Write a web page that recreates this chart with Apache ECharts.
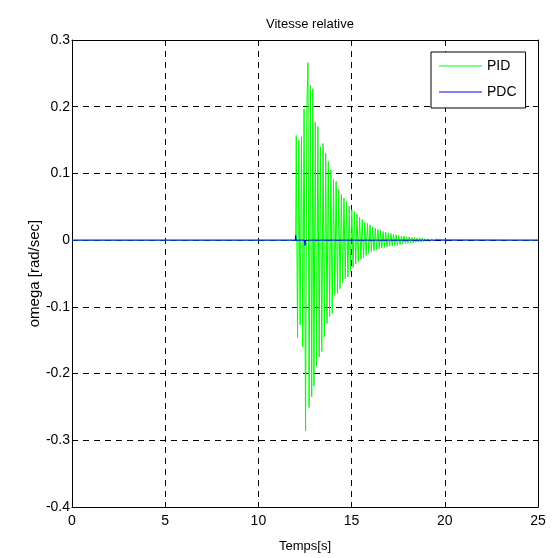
<!DOCTYPE html>
<html>
<head>
<meta charset="utf-8">
<script src="https://cdn.jsdelivr.net/npm/echarts@6/dist/echarts.min.js"></script>
<style>html,body{margin:0;padding:0;background:#fff;}#c{width:552px;height:558px;}</style>
</head>
<body>
<div id="c"></div>
<script>
// X ticks (time, s) and Y ticks (rad/sec)
const xTicks = [0, 5, 10, 15, 20, 25];
const yTicks = [-0.4, -0.3, -0.2, -0.1, 0, 0.1, 0.2, 0.3];

// PID response: sample times and values
const pidTimes = [0, 12.0,
 12.03, 12.10, 12.17, 12.24, 12.31, 12.38, 12.45, 12.53, 12.60, 12.66,
 12.72, 12.79, 12.86, 12.92, 12.98, 13.05, 13.12, 13.19, 13.26, 13.33,
 13.40, 13.47, 13.54, 13.61, 13.68, 13.75, 13.82, 13.89, 13.96, 14.03,
 14.10, 14.17, 14.24, 14.31, 14.38, 14.45, 14.52, 14.59, 14.66, 14.73,
 14.80, 14.87, 14.94, 15.01, 15.08, 15.15, 15.22, 15.29, 15.36, 15.43,
 15.50, 15.57, 15.64, 15.71, 15.78, 15.85, 15.92, 15.99, 16.06, 16.13,
 16.20, 16.27, 16.34, 16.41, 16.48, 16.55, 16.62, 16.69, 16.76, 16.83,
 16.90, 16.97, 17.04, 17.11, 17.18, 17.25, 17.32, 17.39, 17.46, 17.53,
 17.60, 17.67, 17.74, 17.81, 17.88, 17.95, 18.02, 18.09, 18.16, 18.23,
 18.30, 18.37, 18.44, 18.51, 18.58, 18.65, 18.72, 18.79, 18.86, 18.93,
 19.00, 19.10, 19.20, 19.30, 19.40, 19.50, 19.60, 19.70, 19.80, 19.90,
 20.0, 25];
const pidValues = [0, 0,
 0.157, -0.146, 0.150, -0.127, 0.155, -0.160, 0.197, -0.286, 0.200, 0.266,
 -0.251, 0.232, -0.235, 0.227, -0.219, 0.177, -0.189, 0.170, -0.175, 0.140,
 -0.167, 0.145, -0.145, 0.130, -0.125, 0.118, -0.115, 0.105, -0.110, 0.091,
 -0.083, 0.088, -0.080, 0.076, -0.073, 0.068, -0.064, 0.063, -0.058, 0.058,
 -0.055, 0.051, -0.046, 0.046, -0.041, 0.043, -0.036, 0.039, -0.033, 0.034,
 -0.029, 0.031, -0.026, 0.027, -0.023, 0.025, -0.020, 0.023, -0.017, 0.020,
 -0.016, 0.018, -0.014, 0.016, -0.013, 0.015, -0.012, 0.013, -0.011, 0.012,
 -0.010, 0.011, -0.009, 0.010, -0.009, 0.009, -0.008, 0.008, -0.008, 0.007,
 -0.007, 0.006, -0.006, 0.006, -0.005, 0.005, -0.005, 0.005, -0.004, 0.004,
 -0.004, 0.004, -0.003, 0.003, -0.003, 0.003, -0.003, 0.003, -0.002, 0.002,
 -0.002, 0.002, -0.002, 0.002, -0.0015, 0.0015, -0.001, 0.001, -0.001, 0.0005,
 0, 0];

// PDC response: nearly zero with two small blips
const pdcTimes = [0, 11.98, 12.0, 12.03, 12.47, 12.50, 12.53, 25];
const pdcValues = [0, 0, 0.007, 0, 0, -0.008, 0, 0];

const zip = (a, b) => a.map((t, i) => [t, b[i]]);

const chart = echarts.init(document.getElementById('c'), null, {renderer: 'canvas'});
const FONT = '"Liberation Sans", Arial, sans-serif';
const xMin = xTicks[0], xMax = xTicks[xTicks.length - 1];
const yMin = yTicks[0], yMax = yTicks[yTicks.length - 1];

chart.setOption({
  animation: false,
  backgroundColor: '#ffffff',
  title: {
    text: 'Vitesse relative',
    left: 305, top: 13, textAlign: 'center',
    textStyle: {fontFamily: FONT, fontSize: 13, fontWeight: 'normal', color: '#000'}
  },
  legend: {
    left: 431, top: 52,
    orient: 'vertical',
    backgroundColor: '#fff',
    borderColor: '#000', borderWidth: 1, borderRadius: 0,
    padding: [6, 9, 8, 8],
    icon: 'rect',
    itemWidth: 43, itemHeight: 1, itemGap: 10,
    textStyle: {fontFamily: FONT, fontSize: 14, color: '#000', lineHeight: 16},
    data: [{name: 'PID', icon: 'rect'}, {name: 'PDC', icon: 'rect'}]
  },
  grid: {left: 72, right: 14, top: 40, bottom: 49, containLabel: false},
  xAxis: [{
    type: 'value', min: xMin, max: xMax, interval: 5,
    name: 'Temps[s]', nameLocation: 'middle', nameGap: 33, nameMoveOverlap: false,
    nameTextStyle: {fontFamily: FONT, fontSize: 13, color: '#000'},
    axisLine: {show: true, onZero: false, lineStyle: {color: '#000', width: 1}},
    axisTick: {show: true, inside: true, length: 5, lineStyle: {color: '#000'}},
    axisLabel: {fontFamily: FONT, fontSize: 14, color: '#000', margin: 7},
    splitLine: {show: true, lineStyle: {color: '#000', type: [6, 5], width: 1}}
  }, {
    type: 'value', position: 'top', min: xMin, max: xMax, interval: 5,
    axisLine: {show: true, onZero: false, lineStyle: {color: '#000', width: 1}},
    axisTick: {show: true, inside: true, length: 5, lineStyle: {color: '#000'}},
    axisLabel: {show: false}, splitLine: {show: false}
  }],
  yAxis: [{
    type: 'value', min: yMin, max: yMax, interval: 0.1,
    name: 'omega [rad/sec]', nameLocation: 'middle', nameGap: 30, nameMoveOverlap: false,
    nameTextStyle: {fontFamily: FONT, fontSize: 15, color: '#000'},
    axisLine: {show: true, onZero: false, lineStyle: {color: '#000', width: 1}},
    axisTick: {show: true, inside: true, length: 5, lineStyle: {color: '#000'}},
    axisLabel: {fontFamily: FONT, fontSize: 14, color: '#000', margin: 2,
      formatter: v => { const r = Math.round(v * 10) / 10; return r === 0 ? '0' : String(r); }},
    splitLine: {show: true, lineStyle: {color: '#000', type: [6, 5], width: 1}}
  }, {
    type: 'value', position: 'right', min: yMin, max: yMax, interval: 0.1,
    axisLine: {show: true, onZero: false, lineStyle: {color: '#000', width: 1}},
    axisTick: {show: true, inside: true, length: 5, lineStyle: {color: '#000'}},
    axisLabel: {show: false}, splitLine: {show: false}
  }],
  series: [{
    name: 'PID', type: 'line', xAxisIndex: 0, yAxisIndex: 0,
    data: zip(pidTimes, pidValues),
    symbol: 'none', sampling: null,
    lineStyle: {color: '#00ff00', width: 1},
    itemStyle: {color: '#00ff00'}
  }, {
    name: 'PDC', type: 'line', xAxisIndex: 0, yAxisIndex: 0,
    data: zip(pdcTimes, pdcValues),
    symbol: 'none',
    lineStyle: {color: '#0000ff', width: 1},
    itemStyle: {color: '#0000ff'}
  }]
});
</script>
</body>
</html>
